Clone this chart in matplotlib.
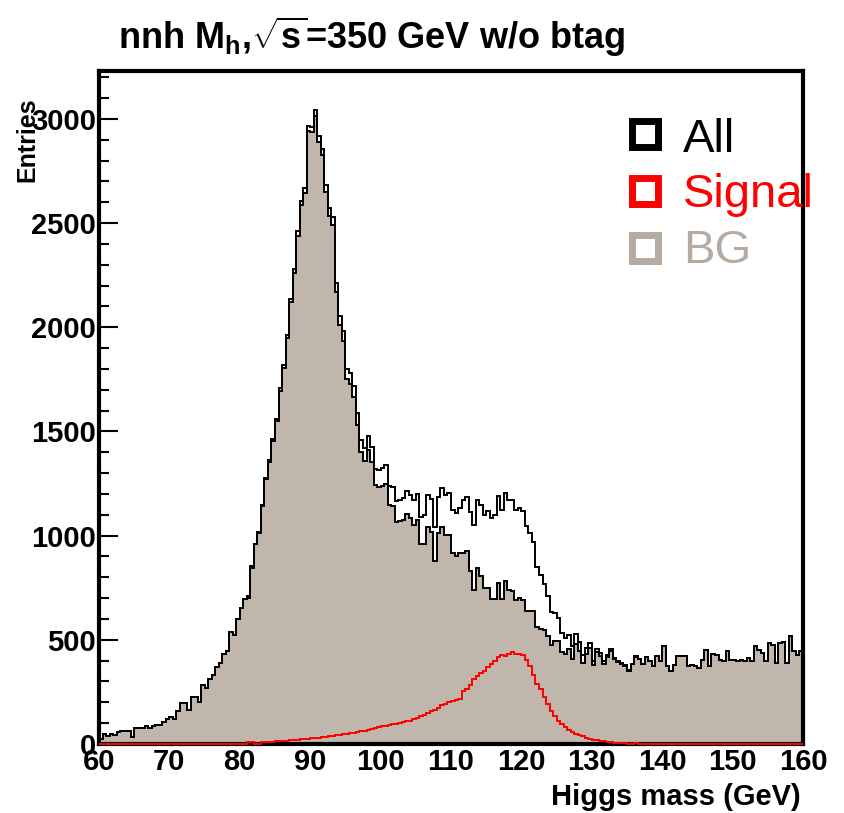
import numpy as np
import matplotlib
matplotlib.use("Agg")
import matplotlib.pyplot as plt

# 0.5 GeV bins from 60 to 160
edges = np.arange(60, 160.5, 0.5)

bg = [24, 49, 37, 49, 44, 57, 60, 60, 60, 33,
      76, 76, 79, 84, 76, 84, 92, 89, 105, 119,
      129, 119, 156, 198, 198, 163, 227, 227, 203, 283,
      267, 314, 330, 370, 389, 433, 446, 537, 521, 600,
      652, 695, 700, 845, 960, 1015, 1140, 1270, 1355, 1455,
      1550, 1695, 1805, 1950, 2120, 2260, 2440, 2585, 2645, 2940,
      2935, 3015, 2890, 2825, 2650, 2535, 2490, 2170, 2010, 1935,
      1750, 1730, 1665, 1530, 1400, 1360, 1410, 1355, 1245, 1235,
      1240, 1250, 1146, 1140, 1067, 1070, 1075, 1106, 1083, 1051,
      1075, 959, 959, 1043, 1019, 876, 1011, 1043, 1003, 1003,
      916, 900, 916, 916, 924, 829, 741, 844, 805, 749,
      749, 698, 698, 773, 698, 781, 740, 733, 690, 700,
      690, 640, 638, 638, 560, 551, 545, 519, 475, 495,
      495, 440, 430, 455, 410, 479, 448, 390, 432, 460,
      380, 440, 424, 384, 416, 448, 408, 392, 384, 376,
      352, 384, 416, 408, 384, 416, 400, 375, 420, 397,
      468, 373, 349, 381, 421, 421, 421, 373, 381, 373,
      365, 405, 452, 373, 432, 429, 405, 397, 444, 405,
      405, 397, 405, 397, 413, 397, 468, 452, 437, 397,
      484, 476, 389, 484, 489, 389, 516, 444, 425, 444]

sig = [0] * 42 + [8, 8, 0, 2, 8, 8, 10, 10,
      12, 12, 15, 15, 18, 18, 20, 22, 24, 25,
      27, 30, 30, 32, 35, 38, 40, 42, 44, 46,
      50, 52, 55, 58, 60, 62, 68, 72, 76, 80,
      85, 88, 92, 95, 98, 100, 105, 108, 112, 118,
      125, 132, 140, 150, 158, 165, 175, 185, 192, 200,
      205, 210, 215, 255, 262, 285, 310, 325, 340, 348,
      370, 385, 400, 418, 425, 422, 430, 440, 432, 432,
      428, 405, 375, 330, 290, 262, 225, 190, 160, 135,
      112, 95, 80, 68, 58, 50, 42, 36, 30, 25,
      20, 17, 14, 12, 10, 8, 6, 5, 4, 3,
      2, 2, 5, 1, 0, 0, 0, 0, 0, 0] + [0] * 40

total = np.array(bg) + np.array(sig)

labels = ["All", "Signal", "BG"]
label_colors = ["black", "red", "#b5aba0"]

fill_col = "#c0b6ab"
bold = ["Liberation Sans", "DejaVu Sans"]
plt.rcParams["mathtext.fontset"] = "custom"
plt.rcParams["mathtext.rm"] = "Liberation Sans:bold"
plt.rcParams["mathtext.it"] = "Liberation Sans:bold"
plt.rcParams["mathtext.bf"] = "Liberation Sans:bold"

fig = plt.figure(figsize=(8.45, 8.13), dpi=100)
ax = fig.add_axes([99 / 845, 69 / 813, 704 / 845, 673 / 813])

ax.stairs(bg, edges, fill=True, color=fill_col, zorder=1)
ax.stairs(bg, edges, color="black", lw=1.4, zorder=2)
ax.stairs(total, edges, color="black", lw=1.4, zorder=2)
ax.stairs(sig, edges, color="red", lw=1.4, zorder=3, clip_on=False)

ax.set_xlim(60, 160)
ax.set_ylim(0, 3230)
ax.set_xticks(np.arange(60, 161, 10))
ax.set_xticks(np.arange(60, 161, 2), minor=True)
ax.set_yticks(np.arange(0, 3001, 500))
ax.set_yticks(np.arange(0, 3201, 100), minor=True)
ax.set_axisbelow(True)
ax.tick_params(which="both", direction="in", top=False, right=False, width=1.5)
ax.tick_params(which="major", length=14)
ax.tick_params(which="minor", length=7)
ax.tick_params(axis="x", pad=3)
ax.tick_params(axis="y", pad=2)
for lab in ax.get_xticklabels() + ax.get_yticklabels():
    lab.set_family(bold)
    lab.set_fontweight("bold")
    lab.set_fontsize(21)
for sp in ax.spines.values():
    sp.set_linewidth(3)

fig.text(1 - 44 / 845, 1 - 797 / 813, "Higgs mass (GeV)", ha="right", va="center",
         family=bold, fontweight="bold", fontsize=21)
fig.text(27 / 845, 1 - 97 / 813, "Entries", rotation=90, ha="center", va="top",
         family=bold, fontweight="bold", fontsize=18)
fig.text(118 / 845, 1 - 37 / 813, r"nnh M$_{h}$,$\sqrt{s}$=350 GeV w/o btag",
         ha="left", va="center", family=bold, fontweight="bold", fontsize=26)

# legend drawn by hand, ROOT style
ys = [0.906, 0.822, 0.737]
bases = [0.8796, 0.798, 0.7147]
for lab, col, y, yb in zip(labels, label_colors, ys, bases):
    ax.plot([0.7756], [y], transform=ax.transAxes, marker="s", ms=19, mfc="white",
            mec=col, mew=5, clip_on=False, zorder=5)
    ax.text(0.8295, yb, lab, transform=ax.transAxes, color=col, va="baseline",
            ha="left", fontsize=34, family=["Liberation Sans", "DejaVu Sans"], zorder=5)

fig.savefig("out.png", dpi=100)
